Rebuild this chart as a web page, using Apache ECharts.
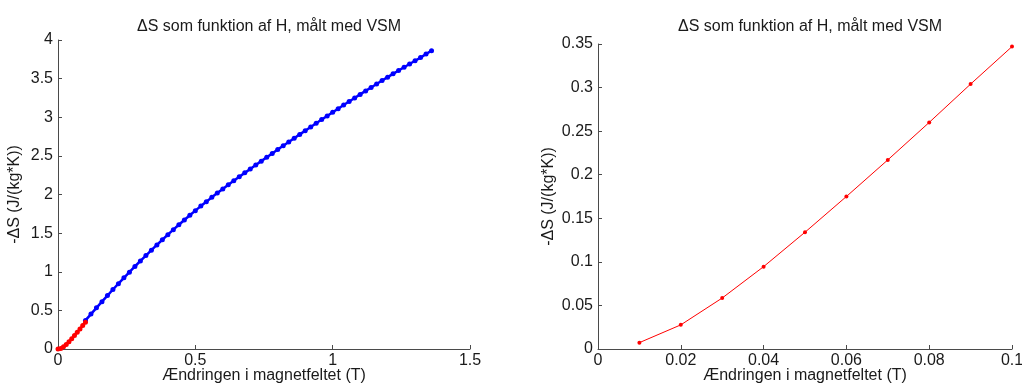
<!DOCTYPE html>
<html>
<head>
<meta charset="utf-8">
<script src="https://cdn.jsdelivr.net/npm/echarts@6/dist/echarts.min.js"></script>
<style>
	html, body { margin: 0; padding: 0; background: #fff; }
	#chart { width: 1022px; height: 385px; }
</style>
</head>
<body>
<div id="chart"></div>
<script>
// VSM measurement, low field part (red), T and J/(kg*K)
const lowH = [0.01, 0.02, 0.03, 0.04, 0.05, 0.06, 0.07, 0.08, 0.09, 0.1];
const lowS = [0.0073, 0.0277, 0.0585, 0.0945, 0.134, 0.175, 0.217, 0.260, 0.304, 0.347];

// full sweep (blue)
const highH = [0.10, 0.12, 0.14, 0.16, 0.18, 0.20, 0.22, 0.24, 0.26, 0.28,
	0.30, 0.32, 0.34, 0.36, 0.38, 0.40, 0.42, 0.44, 0.46, 0.48,
	0.50, 0.52, 0.54, 0.56, 0.58, 0.60, 0.62, 0.64, 0.66, 0.68,
	0.70, 0.72, 0.74, 0.76, 0.78, 0.80, 0.82, 0.84, 0.86, 0.88,
	0.90, 0.92, 0.94, 0.96, 0.98, 1.00, 1.02, 1.04, 1.06, 1.08,
	1.10, 1.12, 1.14, 1.16, 1.18, 1.20, 1.22, 1.24, 1.26, 1.28,
	1.30, 1.32, 1.34, 1.36];
const highS = [0.370, 0.452, 0.533, 0.613, 0.692, 0.770, 0.846, 0.921, 0.995, 1.068,
	1.140, 1.210, 1.279, 1.347, 1.414, 1.480, 1.545, 1.608, 1.670, 1.731,
	1.791, 1.850, 1.907, 1.963, 2.018, 2.072, 2.125, 2.177, 2.229, 2.280,
	2.331, 2.382, 2.432, 2.482, 2.532, 2.582, 2.631, 2.680, 2.729, 2.778,
	2.826, 2.874, 2.922, 2.970, 3.017, 3.064, 3.111, 3.158, 3.204, 3.250,
	3.296, 3.341, 3.386, 3.431, 3.475, 3.519, 3.562, 3.605, 3.647, 3.689,
	3.731, 3.772, 3.818, 3.862];

const titleText = '\u0394S som funktion af H, m\u00e5lt med VSM';
const xName = '\u00c6ndringen i magnetfeltet (T)';
const yName = '-\u0394S (J/(kg*K))';

const font = 'Liberation Sans, Arial, sans-serif';
const axisCol = '#4a4a4a';
const txtCol = '#1a1a1a';

function pairs(xs, ys) {
	return xs.map((x, i) => [x, ys[i]]);
}

function xAxisOf(idx, max, interval) {
	return {
		gridIndex: idx, type: 'value', min: 0, max: max, interval: interval,
		name: xName, nameLocation: 'middle', nameGap: 19, nameMoveOverlap: false,
		nameTextStyle: { color: txtCol, fontSize: 16, fontFamily: font },
		axisLine: { onZero: false, lineStyle: { color: axisCol, width: 1 } },
		axisTick: { inside: true, length: 4, lineStyle: { color: axisCol } },
		axisLabel: { color: txtCol, fontSize: 16, fontFamily: font, margin: 4 },
		splitLine: { show: false }
	};
}

function yAxisOf(idx, max, interval, gap) {
	return {
		gridIndex: idx, type: 'value', min: 0, max: max, interval: interval,
		name: yName, nameLocation: 'middle', nameGap: gap, nameMoveOverlap: false,
		nameTextStyle: { color: txtCol, fontSize: 16, fontFamily: font },
		axisLine: { show: true, onZero: false, lineStyle: { color: axisCol, width: 1 } },
		axisTick: { show: true, inside: true, length: 4, lineStyle: { color: axisCol } },
		axisLabel: { color: txtCol, fontSize: 16, fontFamily: font, margin: 5 },
		splitLine: { show: false }
	};
}

const chart = echarts.init(document.getElementById('chart'), null, { renderer: 'canvas' });

const option = {
	backgroundColor: '#fff',
	animation: false,
	title: [
		{ text: titleText, left: 264, top: 14, textAlign: 'center',
			textStyle: { fontSize: 16, fontWeight: 'normal', color: txtCol, fontFamily: font } },
		{ text: titleText, left: 805, top: 14, textAlign: 'center',
			textStyle: { fontSize: 16, fontWeight: 'normal', color: txtCol, fontFamily: font } }
	],
	grid: [
		{ left: 58, top: 40, width: 412, height: 309, outerBoundsMode: 'none', containLabel: false },
		{ left: 598, top: 44, width: 414, height: 305, outerBoundsMode: 'none', containLabel: false }
	],
	xAxis: [xAxisOf(0, 1.5, 0.5), xAxisOf(1, 0.1, 0.02)],
	yAxis: [yAxisOf(0, 4, 0.5, 35), yAxisOf(1, 0.35, 0.05, 41)],
	series: [
		{
			type: 'line', xAxisIndex: 0, yAxisIndex: 0,
			data: pairs(highH, highS),
			symbol: 'circle', symbolSize: 5, showSymbol: true,
			lineStyle: { color: '#0000ff', width: 2.5 },
			itemStyle: { color: '#0000ff' }
		},
		{
			type: 'line', xAxisIndex: 0, yAxisIndex: 0,
			data: [[0, 0]].concat(pairs(lowH, lowS)),
			symbol: 'circle', symbolSize: 5, showSymbol: true,
			lineStyle: { color: '#ff0000', width: 2.5 },
			itemStyle: { color: '#ff0000' }
		},
		{
			type: 'line', xAxisIndex: 1, yAxisIndex: 1,
			data: pairs(lowH, lowS),
			symbol: 'circle', symbolSize: 4, showSymbol: true,
			lineStyle: { color: '#ff0000', width: 1 },
			itemStyle: { color: '#ff0000' }
		}
	]
};

chart.setOption(option);
</script>
</body>
</html>
